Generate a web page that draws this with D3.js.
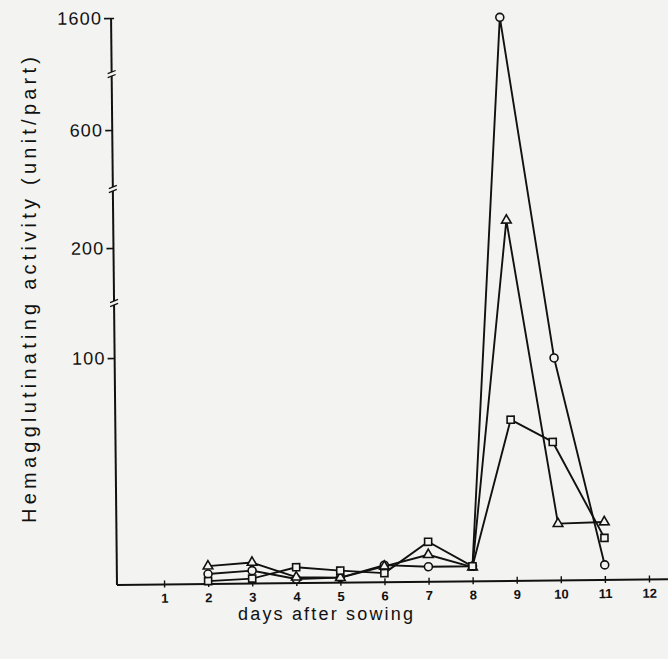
<!DOCTYPE html>
<html>
<head>
<meta charset="utf-8">
<script src="https://cdn.jsdelivr.net/npm/d3@7"></script>
<style>
  html, body { margin: 0; padding: 0; background: #f3f3f1; }
  svg { display: block; }
</style>
</head>
<body>
<svg id="chart" width="668" height="659"></svg>
<script>
// ---- data ----
const xTickLabels = [1,2,3,4,5,6,7,8,9,10,11,12];
const yTickLabels = [1600, 600, 200, 100];
const yBreakValues = [1100, 400, 150];

const circleDays   = [2, 3, 4, 5, 6, 7, 8, 8.75, 9.9, 11];
const circleValues = [4.4, 5.7, 1.8, 2.2, 7.5, 6.6, 6.6, 1570, 98, 6.6];

const triangleDays   = [2, 3, 4, 5, 6, 7, 8, 8.85, 9.95, 11];
const triangleValues = [7.9, 9.3, 2.6, 2.2, 7.0, 11.9, 6.2, 280, 25, 25.5];

const squareDays   = [2, 3, 4, 5, 6, 7, 8, 8.9, 9.85, 11];
const squareValues = [1.3, 2.2, 7.0, 5.3, 4.0, 17.6, 6.6, 71, 61, 18.5];

const xTitle = "days after sowing";
const yTitle = "Hemagglutinating activity (unit/part)";

// ---- layout ----
const bg = "#f3f3f1";
const ink = "#111";
const font = "Liberation Sans, Arial, sans-serif";
const svg = d3.select("#chart");
const axisX0 = 117, axisY0 = 585;

const x = d3.scaleLinear().domain([0, 12]).range([120, 649]);
// broken (piecewise) y-axis
const y = d3.scaleLinear().domain([0, 100, 200, 600, 1600]).range([585, 358, 248, 130, 18]);

const g = svg.append("g").attr("transform", `rotate(-0.6, ${axisX0}, ${axisY0})`);

// x axis
const xAxis = d3.axisBottom(x).tickValues(xTickLabels).tickSize(3).tickSizeOuter(0).tickPadding(6)
  .tickFormat(d3.format("d"));
const gx = g.append("g").attr("transform", `translate(0,${axisY0})`).call(xAxis);
gx.select(".domain").remove();
gx.selectAll(".tick line").attr("y1", -4).attr("stroke", ink).attr("stroke-width", 1.4);
gx.selectAll(".tick text").attr("fill", ink).attr("font-family", font)
  .attr("font-size", 13).attr("font-weight", "bold");
g.append("line").attr("x1", axisX0).attr("x2", 668).attr("y1", axisY0).attr("y2", axisY0)
  .attr("stroke", ink).attr("stroke-width", 2);

// y axis
const yAxis = d3.axisLeft(y).tickValues(yTickLabels).tickSize(7).tickSizeOuter(0).tickPadding(3)
  .tickFormat(d3.format("d"));
const gy = g.append("g").attr("transform", `translate(${axisX0},0)`).call(yAxis);
gy.select(".domain").remove();
gy.selectAll(".tick line").attr("stroke", ink).attr("stroke-width", 1.6).attr("x2", d => d === 1600 ? 3 : 0).attr("x1", -7);
gy.selectAll(".tick text").attr("fill", ink).attr("font-family", font)
  .attr("font-size", 18).attr("letter-spacing", 1.2).attr("x", -9);
g.append("line").attr("x1", axisX0).attr("x2", axisX0).attr("y1", y(1600)).attr("y2", axisY0)
  .attr("stroke", ink).attr("stroke-width", 2);

// axis breaks
yBreakValues.forEach(v => {
  const yy = y(v);
  g.append("rect").attr("x", axisX0 - 3).attr("y", yy - 2).attr("width", 6).attr("height", 4).attr("fill", bg);
  [-2, 2].forEach(o => {
    g.append("line").attr("x1", axisX0 - 4).attr("x2", axisX0 + 4)
      .attr("y1", yy + o + 1.5).attr("y2", yy + o - 1.5)
      .attr("stroke", ink).attr("stroke-width", 1.3);
  });
});

// series
const series = [
  { name: "circle", days: circleDays, values: circleValues },
  { name: "triangle", days: triangleDays, values: triangleValues },
  { name: "square", days: squareDays, values: squareValues }
];
const line = d3.line().x(d => x(d[0])).y(d => y(d[1]));

series.forEach(s => {
  const pts = s.days.map((d, i) => [d, s.values[i]]);
  g.append("path").datum(pts).attr("d", line).attr("fill", "none")
    .attr("stroke", ink).attr("stroke-width", 1.9).attr("stroke-linejoin", "round");
});

series.forEach(s => {
  const pts = s.days.map((d, i) => [d, s.values[i]]);
  const sym = s.name === "circle" ? d3.symbolCircle : s.name === "triangle" ? d3.symbolTriangle : d3.symbolSquare;
  const size = s.name === "circle" ? 50 : s.name === "triangle" ? 40 : 50;
  g.append("g").selectAll("path").data(pts).join("path")
    .attr("transform", d => `translate(${x(d[0])},${y(d[1])})`)
    .attr("d", d3.symbol().type(sym).size(size))
    .attr("fill", bg).attr("stroke", ink).attr("stroke-width", 1.6);
});

// titles
svg.append("text").attr("x", 238).attr("y", 620).attr("fill", ink)
  .attr("font-family", font).attr("font-size", 18)
  .attr("textLength", 175).attr("lengthAdjust", "spacing").text(xTitle);

svg.append("text").attr("transform", "translate(36,523) rotate(-90)").attr("fill", ink)
  .attr("font-family", font).attr("font-size", 20)
  .attr("textLength", 466).attr("lengthAdjust", "spacing").text(yTitle);
</script>
</body>
</html>
